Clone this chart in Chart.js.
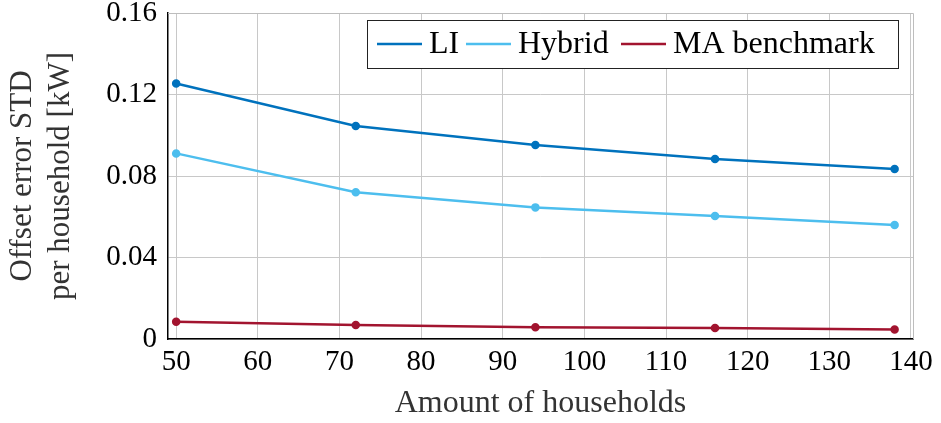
<!DOCTYPE html>
<html>
<head>
<meta charset="utf-8">
<script src="https://cdn.jsdelivr.net/npm/chart.js@4"></script>
<style>
  html, body { margin: 0; padding: 0; background: #fff; }
  #wrap { width: 941px; height: 423px; }
</style>
</head>
<body>
<div id="wrap"><canvas id="chart" width="941" height="423"></canvas></div>
<script>
// ── Data ──
const households = [50, 72, 94, 116, 138];
const liValues = [0.1254, 0.1045, 0.0952, 0.0883, 0.0834];
const hybridValues = [0.0911, 0.0720, 0.0646, 0.0604, 0.0560];
const maValues = [0.0085, 0.0069, 0.0058, 0.0054, 0.0047];

const xTicks = [50, 60, 70, 80, 90, 100, 110, 120, 130, 140];
const yTicks = [0, 0.04, 0.08, 0.12, 0.16];

const seriesLabels = ['LI', 'Hybrid', 'MA benchmark'];
const seriesColors = ['#0072bd', '#4dbeee', '#a2142f'];

const serif = "'Liberation Serif', 'DejaVu Serif', serif";

function toPoints(values) {
  return households.map((x, i) => ({ x: x, y: values[i] }));
}

function makeDataset(i, values) {
  return {
    label: seriesLabels[i],
    data: toPoints(values),
    borderColor: seriesColors[i],
    backgroundColor: seriesColors[i],
    borderWidth: 2.5,
    pointRadius: 3,
    pointHoverRadius: 3,
    tension: 0
  };
}

// Grey frame on top/right + legend box inside the plot
const framePlugin = {
  id: 'frame',
  afterDraw(chart) {
    const { ctx, chartArea: a } = chart;
    ctx.save();
    ctx.strokeStyle = '#bdbdbd';
    ctx.lineWidth = 1;
    ctx.beginPath();
    ctx.moveTo(a.left, a.top + 0.5);
    ctx.lineTo(a.right + 0.5, a.top + 0.5);
    ctx.lineTo(a.right + 0.5, a.bottom);
    ctx.stroke();

    // legend box, item positions
    const boxL = 367, boxT = 20, boxR = 898, boxB = 68;
    const itemX = [377, 466, 621];
    ctx.fillStyle = '#fff';
    ctx.fillRect(boxL, boxT, boxR - boxL, boxB - boxT);
    ctx.strokeStyle = '#222';
    ctx.lineWidth = 1;
    ctx.strokeRect(boxL + 0.5, boxT + 0.5, boxR - boxL, boxB - boxT);

    ctx.font = '32px ' + serif;
    ctx.textBaseline = 'middle';
    ctx.fillStyle = '#000';
    const midY = (boxT + boxB) / 2;
    chart.data.datasets.forEach((ds, i) => {
      const x = itemX[i];
      ctx.strokeStyle = ds.borderColor;
      ctx.lineWidth = 2.5;
      ctx.beginPath();
      ctx.moveTo(x, midY);
      ctx.lineTo(x + 45, midY);
      ctx.stroke();
      ctx.fillText(ds.label, x + 52, midY + 1);
    });
    ctx.restore();
  }
};

new Chart(document.getElementById('chart').getContext('2d'), {
  type: 'line',
  data: {
    datasets: [
      makeDataset(0, liValues),
      makeDataset(1, hybridValues),
      makeDataset(2, maValues)
    ]
  },
  options: {
    responsive: false,
    animation: false,
    layout: { padding: { left: 0, top: 13, right: 28, bottom: 0 } },
    plugins: { legend: { display: false }, tooltip: { enabled: false } },
    scales: {
      x: {
        type: 'linear',
        min: 49,
        max: 140.25,
        afterBuildTicks: s => { s.ticks = xTicks.map(v => ({ value: v })); },
        afterFit: s => { s.height = 84; s.paddingLeft = 0; s.paddingRight = 0; },
        grid: { color: '#c8c8c8', lineWidth: 1, drawTicks: false },
        border: { color: '#000', width: 1.5 },
        ticks: {
          color: '#000',
          padding: 6,
          maxRotation: 0,
          font: { family: serif, size: 29 },
          callback: v => String(v)
        },
        title: {
          display: true,
          text: 'Amount of households',
          color: '#333',
          font: { family: serif, size: 32 },
          padding: { top: 0, bottom: 0 }
        }
      },
      y: {
        min: 0,
        max: 0.16,
        afterBuildTicks: s => { s.ticks = yTicks.map(v => ({ value: v })); },
        afterFit: s => { s.width = 168; s.paddingTop = 0; s.paddingBottom = 0; },
        grid: { color: '#c8c8c8', lineWidth: 1, drawTicks: false },
        border: { color: '#000', width: 1.5 },
        ticks: {
          color: '#000',
          padding: 11,
          font: { family: serif, size: 29 },
          callback: v => (v === 0 ? '0' : v.toFixed(2))
        },
        title: {
          display: true,
          text: ['Offset error STD', 'per household [kW]'],
          color: '#333',
          font: { family: serif, size: 31, lineHeight: 1.23 },
          padding: { top: 4, bottom: 0 }
        }
      }
    }
  },
  plugins: [framePlugin]
});
</script>
</body>
</html>
